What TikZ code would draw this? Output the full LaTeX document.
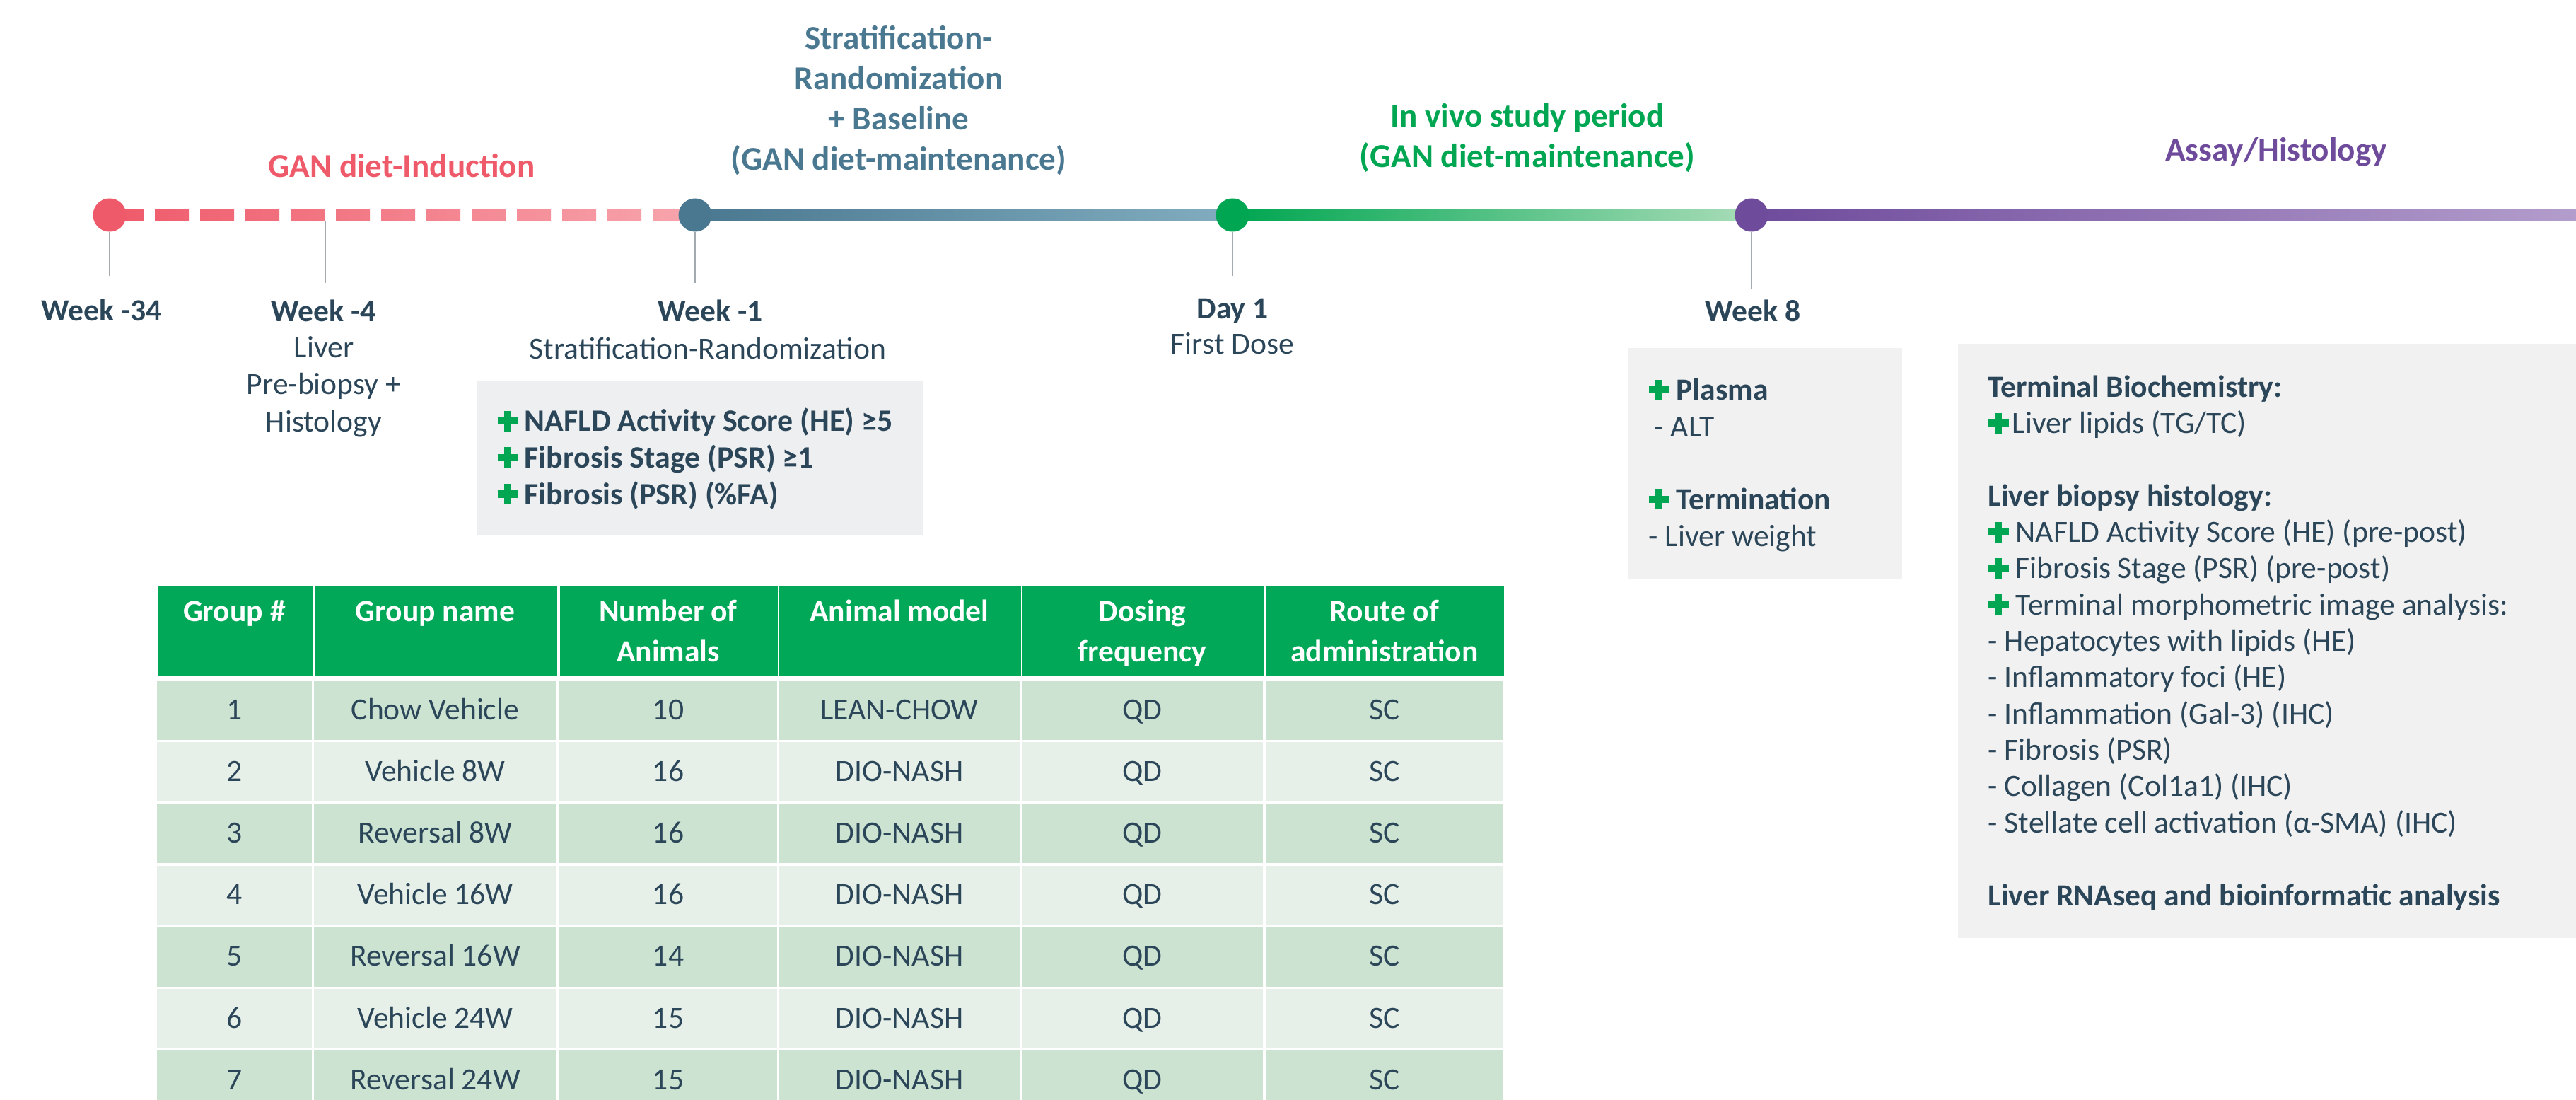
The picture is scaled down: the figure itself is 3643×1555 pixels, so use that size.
\documentclass[tikz,border=0pt]{standalone}
\usepackage{fontspec}
\setmainfont{Carlito}
\usetikzlibrary{calc}
\definecolor{ctext}{HTML}{2C4659}
\definecolor{cred}{HTML}{EF5A6A}
\definecolor{credl}{HTML}{F7A5AD}
\definecolor{cteal}{HTML}{4A7890}
\definecolor{cteall}{HTML}{82ADC0}
\definecolor{cgreen}{HTML}{00A651}
\definecolor{cgreenl}{HTML}{A8DCB8}
\definecolor{cpurple}{HTML}{6F4B9C}
\definecolor{cpurplel}{HTML}{B39DCC}
\definecolor{cbox}{HTML}{F1F1F1}
\definecolor{cboxa}{HTML}{EEEFF0}
\definecolor{ctick}{HTML}{A3ABB1}
\definecolor{chead}{HTML}{00A857}
\definecolor{crowa}{HTML}{CCE3D2}
\definecolor{crowb}{HTML}{E6F0E8}
\newcommand\gplus{\textcolor{cgreen}{\rule[0.095cm]{0.29cm}{0.1cm}\hspace{-0.195cm}\rule{0.1cm}{0.29cm}\hspace{0.095cm}}}
\tikzset{
  dot/.style={circle, minimum size=0.47cm, inner sep=0pt},
  tickline/.style={draw=ctick, line width=0.02cm},
  wk/.style={font=\fontsize{12.4}{14.6}\selectfont\bfseries, text=ctext, anchor=base, inner sep=0pt},
  sub/.style={font=\fontsize{12.4}{14.8}\selectfont, text=ctext, align=center, anchor=base, inner sep=0pt},
  ttl/.style={font=\fontsize{13.4}{16.3}\selectfont\bfseries, align=center, anchor=base, inner sep=0pt},
  gbox/.style={fill=cbox, inner sep=0pt, anchor=north west},
  btxt/.style={font=\fontsize{12.4}{14.6}\selectfont, text=ctext, align=left, anchor=base west, inner sep=0pt},
  hcell/.style={fill=chead, inner sep=0pt, anchor=north west, minimum height=1.26cm},
  htxt/.style={font=\fontsize{12.4}{16.2}\selectfont\bfseries, text=white, align=center, anchor=base, inner sep=0pt},
  cell/.style={inner sep=0pt, minimum height=0.84cm, text height=0.33cm, text depth=0.07cm,
    font=\fontsize{12.4}{14.6}\selectfont, text=ctext}
}
\begin{document}
\begin{tikzpicture}[x=0.01cm,y=-0.01cm]
\useasboundingbox (0,0) rectangle (3643,1555);
\clip (0,0) rectangle (3643,1555);

% ---------- timeline ----------
\coordinate (p1) at (155,304);
\coordinate (p2) at (983,304);
\coordinate (p3) at (1743,304);
\coordinate (p4) at (2477,304);
\coordinate (pend) at (3643,304);
\coordinate (w4) at (460,312);

\begin{scope}
  \clip \foreach \k in {0,...,12} { ({155+64*\k},296) rectangle ++(48,16) };
  \shade[left color=cred, right color=credl] ($(p1)+(0,-8)$) rectangle ($(p2)+(0,8)$);
\end{scope}
\shade[left color=cteal, right color=cteall] ($(p2)+(0,-8)$) rectangle ($(p3)+(0,8)$);
\shade[left color=cgreen, right color=cgreenl] ($(p3)+(0,-8)$) rectangle ($(p4)+(0,8)$);
\shade[left color=cpurple, right color=cpurplel] ($(p4)+(0,-8)$) rectangle ($(pend)+(0,8)$);

\coordinate (t1) at (155,390);
\coordinate (t2) at (460,400);
\coordinate (t3) at (983,400);
\coordinate (t4) at (1743,390);
\coordinate (t5) at (2477,408);

\node[dot, fill=cred] (d1) at (p1) {};
\node[dot, fill=cteal] (d2) at (p2) {};
\node[dot, fill=cgreen] (d3) at (p3) {};
\node[dot, fill=cpurple] (d4) at (p4) {};

\draw[tickline] (d1.south) -- (t1);
\draw[tickline] (w4) -- (t2);
\draw[tickline] (d2.south) -- (t3);
\draw[tickline] (d3.south) -- (t4);
\draw[tickline] (d4.south) -- (t5);

% ---------- phase titles (anchor = baseline of last line) ----------
\node[ttl, text=cred] (ti1) at (568,251) {GAN diet-Induction};
\node[ttl, text=cteal] (ti2) at (1271,241) {Stratification-\\Randomization\\+ Baseline\\(GAN diet-maintenance)};
\node[ttl, text=cgreen] (ti3) at (2160,237) {In vivo study period\\(GAN diet-maintenance)};
\node[ttl, text=cpurple] (ti4) at (3219,228) {Assay/Histology};

% ---------- milestone labels ----------
\node[wk] (l1) at (144,453) {Week -34};
\node[wk] (l2) at (458,455) {Week -4};
\node[sub] (l2b) at (458,610) {Liver\\Pre-biopsy +\\Histology};
\node[wk] (l3) at (1005,455) {Week -1};
\node[sub] (l3b) at (1001,507) {Stratification-Randomization};
\node[wk] (l4) at (1743,450) {Day 1};
\node[sub] (l4b) at (1743,500) {First Dose};
\node[wk] (l5) at (2479,455) {Week 8};

% ---------- grey boxes ----------
\node[gbox, fill=cboxa, minimum width=6.30cm, minimum height=2.17cm] (b1) at (674,538) {};
\node[btxt, font=\fontsize{12.5}{14.65}\selectfont\bfseries] (b1t) at (703,713)
  {\gplus\hspace{0.09cm}NAFLD Activity Score (HE) ≥5\\\gplus\hspace{0.09cm}Fibrosis Stage (PSR) ≥1\\\gplus\hspace{0.09cm}Fibrosis (PSR) (\%FA)};

\node[gbox, minimum width=3.87cm, minimum height=3.26cm] (b2) at (2302,491) {};
\node[btxt, font=\fontsize{12.4}{14.65}\selectfont] (b2t) at (2331,772)
  {\gplus\hspace{0.1cm}\textbf{Plasma}\\\hspace{0.08cm}- ALT\\[14.65pt]\gplus\hspace{0.1cm}\textbf{Termination}\\- Liver weight};

\node[gbox, minimum width=8.80cm, minimum height=8.40cm] (b3) at (2768,485) {};
\node[btxt] (b3t) at (2811,1280)
  {\textbf{Terminal Biochemistry:}\\
   \gplus\hspace{0.05cm}Liver lipids (TG/TC)\\[14.6pt]
   \textbf{Liver biopsy histology:}\\
   \gplus{} NAFLD Activity Score (HE) (pre-post)\\
   \gplus{} Fibrosis Stage (PSR) (pre-post)\\
   \gplus{} Terminal morphometric image analysis:\\
   - Hepatocytes with lipids (HE)\\
   - Inflammatory foci (HE)\\
   - Inflammation (Gal-3) (IHC)\\
   - Fibrosis (PSR)\\
   - Collagen (Col1a1) (IHC)\\
   - Stellate cell activation (α-SMA) (IHC)\\[14.6pt]
   \textbf{Liver RNAseq and bioinformatic analysis}};

% ---------- table ----------
\foreach \xl/\xr/\hy/\hd [count=\i] in {222/441/878/{Group \#},444/787/878/{Group name},791/1099/935/{Number of\\Animals},1101/1443/878/{Animal model},1445/1786/935/{Dosing\\frequency},1790/2126/935/{Route of\\administration}}{
  \pgfmathsetmacro\w{(\xr-\xl)/100}
  \node[hcell, minimum width=\w cm] (h\i) at (\xl,828) {};
  \node[htxt] (ht\i) at ({(\xl+\xr)/2},\hy) {\hd};
}
\foreach \ga/\gb/\gc/\gd [count=\j] in {1/Chow Vehicle/10/LEAN-CHOW,2/Vehicle 8W/16/DIO-NASH,3/Reversal 8W/16/DIO-NASH,4/Vehicle 16W/16/DIO-NASH,5/Reversal 16W/14/DIO-NASH,6/Vehicle 24W/15/DIO-NASH,7/Reversal 24W/15/DIO-NASH}{
  \ifodd\j\relax\def\rc{crowa}\else\def\rc{crowb}\fi
  \pgfmathsetmacro\yc{962+87.2*(\j-1)+42}
  \foreach \xl/\xr/\tx [count=\i] in {222/441/\ga,444/787/\gb,791/1099/\gc,1101/1443/\gd,1445/1786/QD,1790/2126/SC}{
    \pgfmathsetmacro\w{(\xr-\xl)/100}
    \node[cell, fill=\rc, minimum width=\w cm] (c\j-\i) at ({(\xl+\xr)/2},\yc) {\tx};
  }
}
\end{tikzpicture}
\end{document}
